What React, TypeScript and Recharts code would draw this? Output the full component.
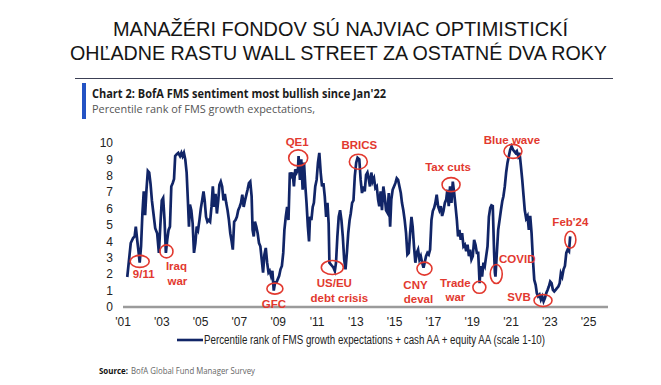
import React from 'react';
import { LineChart, Line, XAxis, YAxis, ReferenceDot } from 'recharts';

// survey dates as decimal years
const months = [
    2001.22, 2001.40, 2001.52, 2001.60, 2001.66, 2001.73, 2001.79, 2001.86, 2001.93, 2002.00,
    2002.07, 2002.14, 2002.21, 2002.28, 2002.35, 2002.42, 2002.49, 2002.55, 2002.66, 2002.76,
    2002.85, 2002.93, 2003.00, 2003.07, 2003.14, 2003.21, 2003.28, 2003.35, 2003.42, 2003.49,
    2003.56, 2003.63, 2003.69, 2003.76, 2003.85, 2003.94, 2004.01, 2004.07, 2004.14, 2004.21,
    2004.28, 2004.35, 2004.40, 2004.45, 2004.52, 2004.59, 2004.66, 2004.73, 2004.80, 2004.87,
    2004.94, 2005.01, 2005.08, 2005.15, 2005.21, 2005.28, 2005.35, 2005.42, 2005.49, 2005.56,
    2005.63, 2005.70, 2005.77, 2005.84, 2005.91, 2005.97, 2006.04, 2006.11, 2006.18, 2006.25,
    2006.32, 2006.39, 2006.46, 2006.53, 2006.60, 2006.66, 2006.73, 2006.80, 2006.87, 2006.94,
    2007.01, 2007.08, 2007.15, 2007.22, 2007.29, 2007.36, 2007.42, 2007.49, 2007.56, 2007.63,
    2007.68, 2007.74, 2007.80, 2007.87, 2007.94, 2008.01, 2008.08, 2008.15, 2008.22, 2008.29,
    2008.36, 2008.43, 2008.50, 2008.56, 2008.63, 2008.70, 2008.77, 2008.84, 2008.91, 2008.98,
    2009.05, 2009.12, 2009.19, 2009.26, 2009.32, 2009.39, 2009.46, 2009.53, 2009.60, 2009.67,
    2009.74, 2009.81, 2009.88, 2009.95, 2010.02, 2010.05, 2010.12, 2010.19, 2010.26, 2010.33,
    2010.40, 2010.46, 2010.53, 2010.59, 2010.64, 2010.71, 2010.78, 2010.84, 2010.91, 2010.98,
    2011.05, 2011.12, 2011.19, 2011.26, 2011.33, 2011.40, 2011.47, 2011.54, 2011.60, 2011.64,
    2011.71, 2011.78, 2011.85, 2011.92, 2011.98, 2012.05, 2012.12, 2012.19, 2012.26, 2012.33,
    2012.40, 2012.47, 2012.54, 2012.61, 2012.68, 2012.74, 2012.81, 2012.88, 2012.95, 2013.02,
    2013.09, 2013.18, 2013.25, 2013.32, 2013.39, 2013.46, 2013.53, 2013.60, 2013.66, 2013.73,
    2013.80, 2013.87, 2013.94, 2014.01, 2014.08, 2014.15, 2014.21, 2014.28, 2014.35, 2014.42,
    2014.49, 2014.56, 2014.63, 2014.70, 2014.77, 2014.83, 2014.90, 2014.97, 2015.04, 2015.11,
    2015.18, 2015.25, 2015.32, 2015.38, 2015.45, 2015.52, 2015.59, 2015.66, 2015.73, 2015.80,
    2015.87, 2015.93, 2016.00, 2016.07, 2016.14, 2016.21, 2016.28, 2016.35, 2016.42, 2016.49,
    2016.55, 2016.62, 2016.69, 2016.76, 2016.83, 2016.90, 2016.97, 2017.04, 2017.10, 2017.17,
    2017.24, 2017.31, 2017.38, 2017.45, 2017.52, 2017.59, 2017.66, 2017.72, 2017.79, 2017.86,
    2017.93, 2018.00, 2018.07, 2018.14, 2018.21, 2018.27, 2018.34, 2018.41, 2018.48, 2018.55,
    2018.62, 2018.69, 2018.76, 2018.83, 2018.89, 2018.96, 2019.03, 2019.10, 2019.17, 2019.24,
    2019.31, 2019.38, 2019.44, 2019.51, 2019.58, 2019.65, 2019.72, 2019.79, 2019.86, 2019.93,
    2019.99, 2020.06, 2020.13, 2020.17, 2020.20, 2020.27, 2020.34, 2020.41, 2020.48, 2020.55,
    2020.61, 2020.68, 2020.75, 2020.82, 2020.89, 2020.96, 2021.03, 2021.10, 2021.16, 2021.23,
    2021.30, 2021.37, 2021.44, 2021.51, 2021.58, 2021.65, 2021.71, 2021.78, 2021.85, 2021.92,
    2021.99, 2022.06, 2022.13, 2022.20, 2022.27, 2022.33, 2022.40, 2022.47, 2022.54, 2022.61,
    2022.68, 2022.75, 2022.82, 2022.89, 2022.95, 2023.02, 2023.09, 2023.16, 2023.23, 2023.30,
    2023.37, 2023.44, 2023.51, 2023.57, 2023.64, 2023.71, 2023.78, 2023.85, 2023.92, 2023.99,
    2024.05,
];

// percentile rank (scale 1-10)
const sentiment = [
    1.83, 3.9, 4.2, 4.3, 4.9, 4.1, 3.5, 2.7, 3.7, 5.7,
    7.05, 5.6, 7.15, 8.3, 8.2, 7.5, 6.5, 5.9, 4.8, 4.5,
    3.3, 5.1, 6.5, 6.65, 5.3, 3.3, 4.1, 4.7, 4.9, 7.35,
    7.55, 7.8, 9.2, 9.3, 9.4, 9.2, 9.4, 9.2, 9.4, 9.0,
    8.2, 6.35, 4.9, 6.25, 5.9, 5.1, 3.3, 3.9, 4.9, 4.7,
    5.3, 6.0, 6.5, 7.05, 6.5, 5.5, 5.2, 5.3, 5.2, 6.1,
    7.35, 6.1, 6.9, 5.7, 6.5, 7.45, 7.65, 7.35, 6.5, 6.9,
    6.35, 5.9, 5.3, 4.5, 4.0, 3.5, 5.2, 5.3, 5.5, 5.9,
    6.1, 6.35, 6.85, 6.1, 6.5, 6.85, 7.15, 7.55, 7.65, 6.75,
    4.7, 4.3, 5.2, 4.9, 4.5, 3.9, 3.7, 2.9, 2.1, 3.2,
    3.6, 2.7, 2.1, 2.2, 1.9, 2.2, 1.0, 1.5, 1.5, 1.7,
    1.9, 2.3, 2.5, 3.3, 4.7, 5.5, 6.1, 5.3, 8.2, 8.0,
    8.2, 7.35, 8.4, 8.2, 8.4, 9.2, 7.75, 9.0, 7.15, 8.8,
    7.35, 6.35, 4.9, 4.0, 5.5, 5.3, 6.1, 6.35, 7.35, 7.75,
    8.8, 9.4, 8.2, 7.35, 7.55, 6.75, 5.5, 6.35, 5.1, 2.7,
    2.6, 2.5, 2.4, 2.2, 2.7, 4.3, 5.5, 5.9, 5.3, 4.3,
    2.9, 2.3, 3.3, 4.5, 5.3, 5.7, 6.35, 6.5, 8.0, 8.8,
    9.1, 9.0, 7.75, 6.95, 7.35, 7.05, 8.05, 8.2, 7.85, 7.35,
    8.2, 7.65, 7.85, 7.25, 7.35, 6.55, 6.15, 7.05, 5.9, 7.35,
    6.75, 5.9, 5.75, 6.95, 4.9, 6.55, 7.15, 7.35, 7.55, 7.85,
    7.75, 7.35, 6.95, 6.35, 5.9, 5.3, 4.5, 3.2, 3.3, 4.5,
    5.5, 4.9, 3.7, 2.7, 3.3, 3.5, 2.9, 3.1, 2.7, 2.4,
    2.7, 3.1, 3.3, 3.2, 3.5, 5.3, 5.85, 6.05, 6.35, 6.85,
    6.15, 5.9, 6.15, 5.55, 5.85, 6.35, 6.55, 7.15, 6.15, 7.35,
    6.35, 7.65, 6.95, 6.15, 5.3, 4.3, 4.7, 4.1, 4.5, 3.7,
    3.8, 3.4, 3.8, 3.1, 3.5, 2.9, 3.1, 4.1, 3.8, 3.3,
    3.3, 1.45, 2.5, 1.85, 2.7, 2.5, 3.1, 3.7, 5.5, 6.05,
    6.2, 6.15, 3.3, 2.1, 1.85, 3.3, 4.7, 5.3, 5.9, 6.45,
    6.75, 7.35, 8.2, 8.8, 9.2, 9.6, 9.8, 9.6, 9.5, 9.4,
    9.5, 9.2, 9.4, 8.6, 7.75, 6.75, 5.9, 5.4, 5.55, 4.7,
    5.55, 4.5, 2.9, 1.65, 1.35, 0.85, 0.65, 0.75, 0.45, 0.65,
    0.35, 0.55, 0.85, 1.05, 1.25, 1.55, 1.45, 1.05, 0.95, 1.05,
    1.15, 1.25, 1.45, 2.05, 1.85, 2.3, 2.5, 3.3, 3.5, 3.4,
    4.3,
];

const yearTicks = [2001, 2003, 2005, 2007, 2009, 2011, 2013, 2015, 2017, 2019, 2021, 2023, 2025];
const valueTicks = [0, 1, 2, 3, 4, 5, 6, 7, 8, 9, 10];

// circled events: where the circle sits and what it says
const eventNames = ['9/11', 'Iraq', 'GFC', 'QE1', 'USEU', 'BRICS', 'CNY', 'Tax', 'Trade', 'COVID', 'Blue', 'SVB', 'Feb24'];
const eventYears = [2001.86, 2003.24, 2008.83, 2010.03, 2011.79, 2013.13, 2016.54, 2017.91, 2019.37, 2020.24, 2021.10, 2022.65, 2024.06];
const eventValues = [2.78, 3.39, 1.12, 9.09, 2.41, 8.86, 2.34, 7.46, 1.2, 2.01, 9.49, 0.4, 4.1];
const eventLabels = [
    ['9/11'], ['Iraq', 'war'], ['GFC'], ['QE1'], ['US/EU', 'debt crisis'], ['BRICS'],
    ['CNY', 'deval'], ['Tax cuts'], ['Trade', 'war'], ['COVID'], ['Blue wave'], ['SVB'], ["Feb'24"],
];

// ellipse radii and label offsets (px, from circle centre)
const eventLayout: Record<string, { rx: number; ry: number; dx: number[]; dy: number[] }> = {
    '9/11': { rx: 9.5, ry: 6, dx: [4], dy: [13] },
    Iraq: { rx: 6.5, ry: 6.5, dx: [10, 11], dy: [15, 30] },
    GFC: { rx: 8, ry: 5.5, dx: [-1], dy: [15] },
    QE1: { rx: 9.5, ry: 8, dx: [-1], dy: [-16] },
    USEU: { rx: 11, ry: 7, dx: [2, 7], dy: [16, 31] },
    BRICS: { rx: 9, ry: 7.5, dx: [1], dy: [-17] },
    CNY: { rx: 7.5, ry: 6.5, dx: [-9, -6], dy: [16, 30] },
    Tax: { rx: 9, ry: 7, dx: [-3], dy: [-18] },
    Trade: { rx: 6.5, ry: 6, dx: [-24, -24], dy: [-4, 10] },
    COVID: { rx: 6, ry: 9.5, dx: [21], dy: [-15] },
    Blue: { rx: 9, ry: 7, dx: [-1], dy: [-11] },
    SVB: { rx: 9, ry: 6, dx: [-24], dy: [-3] },
    Feb24: { rx: 5.5, ry: 8.5, dx: [0], dy: [-18] },
};

const chartData = months.map((year, i) => ({ year, value: sentiment[i] }));

const NAVY = '#112567';
const RED = '#e2392f';
const NARROW = "'Liberation Sans Narrow', 'Arial Narrow', 'Liberation Sans', Arial, sans-serif";
const HEAD = "'Open Sans', 'Noto Sans', sans-serif";
const TITLE = "'Liberation Sans', Arial, sans-serif";

const renderEvent = (name: string, lines: string[]) => (props: any) => {
    const { cx, cy } = props;
    const lay = eventLayout[name];
    return (
        <g>
            <ellipse cx={cx} cy={cy} rx={lay.rx} ry={lay.ry} fill="none" stroke={RED} strokeWidth={1.6} />
            {lines.map((txt, i) => (
                <text key={txt} x={cx + lay.dx[i]} y={cy + lay.dy[i]} textAnchor="middle" dominantBaseline="central"
                    fontFamily={NARROW} fontWeight={700} fontSize={11.5} fill={RED}>{txt}</text>
            ))}
        </g>
    );
};

const App = () => {
    return (
        <div style={{ position: 'absolute', left: 0, top: 0, width: 661, height: 385, background: '#fff' }}>
            <LineChart width={661} height={385} data={chartData}
                margin={{ top: 143, right: 53, left: 90, bottom: 53 }}
                style={{ position: 'absolute', left: 0, top: 0 }}>
                <XAxis dataKey="year" type="number" domain={[2001, 2026]} ticks={yearTicks} interval={0}
                    tickFormatter={(y: number) => `'${String(y).slice(2)}`} height={25}
                    axisLine={{ stroke: '#9b9b9b', strokeWidth: 2.5 }} tickLine={false} tickMargin={4}
                    tick={{ fontSize: 12, fill: '#222', fontFamily: NARROW }} />
                <YAxis type="number" domain={[0, 10]} ticks={valueTicks} interval={0} width={33}
                    axisLine={false} tickLine={false} tickMargin={4}
                    tick={{ fontSize: 12, fill: '#222', fontFamily: NARROW }} />
                <Line type="linear" dataKey="value" stroke={NAVY} strokeWidth={2.7} dot={false} isAnimationActive={false} />
                {eventNames.map((name, i) => (
                    <ReferenceDot key={name} x={eventYears[i]} y={eventValues[i]} r={8}
                        shape={renderEvent(name, eventLabels[i])} />
                ))}
            </LineChart>

            <svg width={661} height={385} style={{ position: 'absolute', left: 0, top: 0, pointerEvents: 'none' }}>
                <text x={113} y={36} fontFamily={TITLE} fontSize={21} fill="#151515" textLength={455} lengthAdjust="spacingAndGlyphs">
                    MANAŽÉRI FONDOV SÚ NAJVIAC OPTIMISTICKÍ
                </text>
                <text x={70} y={60} fontFamily={TITLE} fontSize={21} fill="#151515" textLength={537} lengthAdjust="spacingAndGlyphs">
                    OHĽADNE RASTU WALL STREET ZA OSTATNÉ DVA ROKY
                </text>
                <line x1={75} x2={613} y1={78.5} y2={78.5} stroke="#3c4055" strokeWidth={1.2} />
                <rect x={82} y={83} width={4} height={36} fill="#2453c4" />
                <text x={92} y={97.5} fontFamily={HEAD} fontWeight={700} fontSize={11.5} fill="#1b1b1b" textLength={294} lengthAdjust="spacingAndGlyphs">
                    Chart 2: BofA FMS sentiment most bullish since Jan'22
                </text>
                <text x={92} y={113} fontFamily={HEAD} fontSize={11} fill="#555" textLength={223} lengthAdjust="spacingAndGlyphs">
                    Percentile rank of FMS growth expectations,
                </text>

                <line x1={177} x2={203} y1={340} y2={340} stroke={NAVY} strokeWidth={2.6} />
                <text x={204} y={344} fontFamily={NARROW} fontSize={12} fill="#222" textLength={341} lengthAdjust="spacingAndGlyphs">
                    Percentile rank of FMS growth expectations + cash AA + equity AA (scale 1-10)
                </text>

                <text x={99} y={374} fontFamily={HEAD} fontWeight={700} fontSize={9} fill="#111" textLength={29} lengthAdjust="spacingAndGlyphs">
                    Source:
                </text>
                <text x={131} y={374} fontFamily={HEAD} fontSize={9} fill="#666" textLength={124} lengthAdjust="spacingAndGlyphs">
                    BofA Global Fund Manager Survey
                </text>
            </svg>
        </div>
    );
};

export default App;
